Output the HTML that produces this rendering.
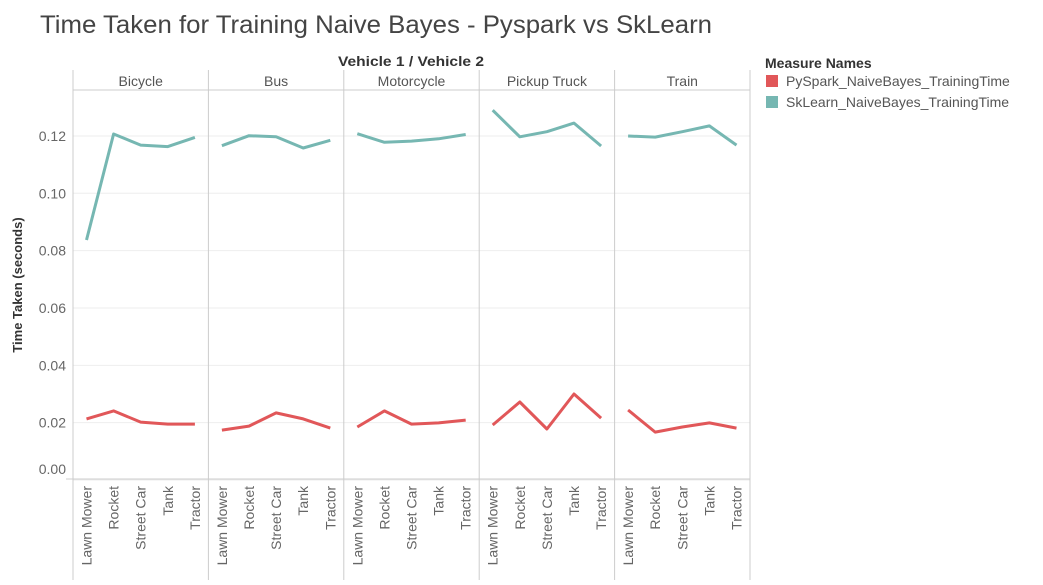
<!DOCTYPE html>
<html><head><meta charset="utf-8"><style>
body{margin:0;background:#fff;width:1043px;height:580px;overflow:hidden;font-family:"Liberation Sans",sans-serif}
svg text{font-family:"Liberation Sans",sans-serif}
</style></head><body>
<svg id="chart" width="1043" height="580" xmlns="http://www.w3.org/2000/svg">
<text x="40" y="33" font-size="25" fill="#444" textLength="672" lengthAdjust="spacingAndGlyphs">Time Taken for Training Naive Bayes - Pyspark vs SkLearn</text>
<text x="411" y="66" font-size="14" font-weight="bold" fill="#333" text-anchor="middle" textLength="146" lengthAdjust="spacingAndGlyphs">Vehicle 1  /  Vehicle 2</text>
<text transform="translate(22,285) rotate(-90)" font-size="13" font-weight="bold" fill="#333" text-anchor="middle">Time Taken (seconds)</text>
<g id="plot"></g>
<g>
<text x="765" y="68" font-size="14" font-weight="bold" fill="#333">Measure Names</text>
<rect x="766" y="75" width="12" height="12" fill="#e15759"/>
<text x="786" y="86" font-size="14" fill="#555">PySpark_NaiveBayes_TrainingTime</text>
<rect x="766" y="96" width="12" height="12" fill="#76b7b2"/>
<text x="786" y="107" font-size="14" fill="#555">SkLearn_NaiveBayes_TrainingTime</text>
</g>
</svg>
<script>
const panels = ["Bicycle","Bus","Motorcycle","Pickup Truck","Train"];
const categories = ["Lawn Mower","Rocket","Street Car","Tank","Tractor"];
const yTicks = [0,0.02,0.04,0.06,0.08,0.10,0.12];
const yTickLabels = ["0.00","0.02","0.04","0.06","0.08","0.10","0.12"];
const pyspark = [
 [0.0213,0.0241,0.0202,0.0195,0.0195],
 [0.0174,0.0188,0.0234,0.0213,0.0181],
 [0.0185,0.0241,0.0195,0.0199,0.0209],
 [0.0192,0.0272,0.0178,0.0300,0.0216],
 [0.0244,0.0167,0.0185,0.0199,0.0181]
];
const sklearn = [
 [0.0837,0.1207,0.1168,0.1163,0.1195],
 [0.1166,0.1201,0.1197,0.1158,0.1185],
 [0.1208,0.1178,0.1182,0.1190,0.1205],
 [0.1290,0.1197,0.1215,0.1245,0.1165],
 [0.1200,0.1196,0.1215,0.1235,0.1168]
];
(function(){
const NS="http://www.w3.org/2000/svg";
const g=document.getElementById('plot');
const plotLeft=73,plotRight=750,plotTop=90,plotBottom=479;
const pw=(plotRight-plotLeft)/panels.length;
function yS(v){return 480-v*2867;}
function xS(p,i){return plotLeft+p*pw+(i+0.5)*pw/categories.length;}
function mk(t,a){const e=document.createElementNS(NS,t);for(const k in a)e.setAttribute(k,a[k]);g.appendChild(e);return e;}
yTicks.forEach((t,i)=>{
 const l=mk('line',{x1:plotLeft,x2:plotRight,y1:yS(t),y2:yS(t),stroke:'#eee','stroke-width':1});
 
 
 const tx=mk('text',{x:66,y:(i==0?yS(t)-6:yS(t)+5),'font-size':14,fill:'#666','text-anchor':'end'});
 tx.textContent=yTickLabels[i];
 
 
});
mk('line',{x1:plotLeft,x2:plotRight,y1:plotTop,y2:plotTop,stroke:'#ccc'});
mk('line',{x1:66,x2:plotRight,y1:plotBottom,y2:plotBottom,stroke:'#ccc'});
for(let p=0;p<=panels.length;p++){
 const d=mk('line',{x1:plotLeft+p*pw,x2:plotLeft+p*pw,y1:70,y2:580,stroke:'#ccc'});
 
 
}
panels.forEach((name,p)=>{
 const h=mk('text',{x:plotLeft+p*pw+pw/2,y:86,'font-size':14,fill:'#555','text-anchor':'middle'});
 h.textContent=name;
 
 
 categories.forEach((c,i)=>{
  const t=mk('text',{transform:`translate(${xS(p,i)+5},486) rotate(-90)`,'font-size':14,fill:'#666','text-anchor':'end'});
  t.textContent=c;
  
  
 });
 [[pyspark,'#e15759','pyspark-line'],[sklearn,'#76b7b2','sklearn-line']].forEach(([s,col,nm])=>{
  const pts=s[p].map((v,i)=>xS(p,i).toFixed(1)+','+yS(v).toFixed(1)).join(' ');
  const pl=mk('polyline',{points:pts,fill:'none',stroke:col,'stroke-width':3,'stroke-linejoin':'round'});
  
  
 });
});
})();
</script>
</body></html>
